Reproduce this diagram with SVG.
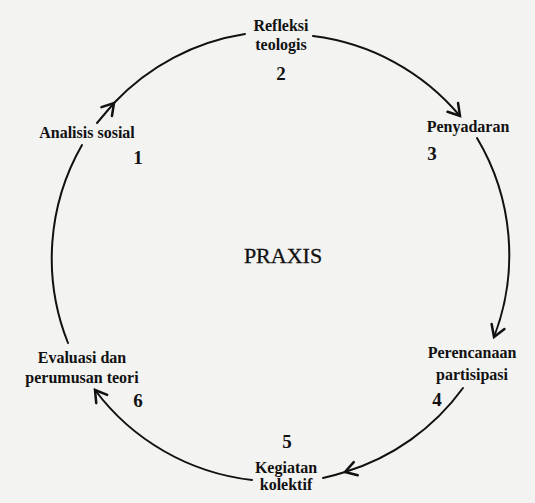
<svg xmlns="http://www.w3.org/2000/svg" width="535" height="503" viewBox="0 0 535 503">
<style>
.lbl{font-family:"Liberation Serif","DejaVu Serif",serif;font-weight:bold;font-size:16px;fill:#111;text-anchor:middle}
.num{font-family:"Liberation Serif","DejaVu Serif",serif;font-weight:bold;font-size:19px;fill:#111;text-anchor:middle}
.title{font-family:"Liberation Serif","DejaVu Serif",serif;font-size:22px;fill:#111;text-anchor:middle;stroke:#111;stroke-width:0.3}
.arc{fill:none;stroke:#111;stroke-width:2;stroke-linecap:round}
</style>
<defs>
<marker id="ah" markerUnits="userSpaceOnUse" markerWidth="20" markerHeight="20" refX="0" refY="0" viewBox="-12 -8 14 16" orient="auto">
<path d="M-9,-5.5 L0,0 L-9,5.5" fill="none" stroke="#111" stroke-width="2" stroke-linecap="round"/>
</marker>
</defs>
<rect width="535" height="503" fill="#f3f3f1"/>
<g id="connectors">
<path class="arc" d="M97,123 L114,103" marker-end="url(#ah)"/>
<path class="arc" d="M114,103 A228,228 0 0 1 245,34"/>
<path class="arc" d="M313,36 A228,228 0 0 1 460,116" marker-end="url(#ah)"/>
<path class="arc" d="M477,138 A228,228 0 0 1 494,337" marker-end="url(#ah)"/>
<path class="arc" d="M463,388 A228,228 0 0 1 345,472" marker-end="url(#ah)"/>
<path class="arc" d="M345,472 A228,228 0 0 1 323,478"/>
<path class="arc" d="M252,480 A228,228 0 0 1 95,390" marker-end="url(#ah)"/>
<path class="arc" d="M68,343 A228,228 0 0 1 82,145"/>
</g>
<g id="node-refleksi">
<text class="lbl" x="281" y="31">Refleksi</text>
<text class="lbl" x="281" y="50">teologis</text>
<text class="num" x="281" y="80">2</text>
</g>
<g id="node-analisis">
<text class="lbl" x="87" y="138">Analisis sosial</text>
<text class="num" x="138" y="164">1</text>
</g>
<g id="node-penyadaran">
<text class="lbl" x="468" y="132">Penyadaran</text>
<text class="num" x="432" y="160">3</text>
</g>
<g id="node-praxis">
<text class="title" x="283" y="263">PRAXIS</text>
</g>
<g id="node-perencanaan">
<text class="lbl" x="472" y="358">Perencanaan</text>
<text class="lbl" x="472" y="380">partisipasi</text>
<text class="num" x="437" y="406">4</text>
</g>
<g id="node-kegiatan">
<text class="num" x="287" y="448">5</text>
<text class="lbl" x="286" y="473">Kegiatan</text>
<text class="lbl" x="286" y="490">kolektif</text>
</g>
<g id="node-evaluasi">
<text class="lbl" x="82" y="363">Evaluasi dan</text>
<text class="lbl" x="82" y="383">perumusan teori</text>
<text class="num" x="138" y="407">6</text>
</g>
</svg>
